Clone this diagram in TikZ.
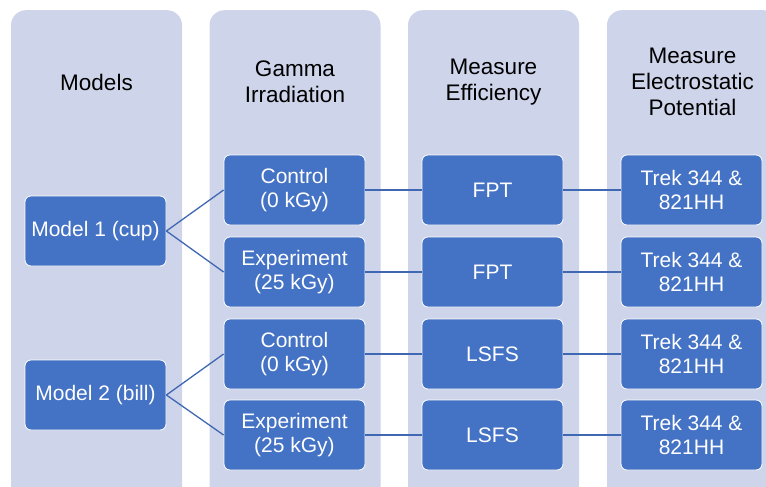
\documentclass[tikz,border=0pt]{standalone}
\usepackage{fontspec}
\setmainfont{Liberation Sans}
\usepackage{tikz}
\definecolor{lanebg}{HTML}{CED4EA}
\definecolor{boxblue}{HTML}{4472C4}
\definecolor{linkblue}{HTML}{3F67B2}

\begin{document}
\begin{tikzpicture}[x=1pt, y=-1pt,
    lane/.style={fill=lanebg, rounded corners=15pt, minimum width=171pt,
      minimum height=500pt, inner sep=0pt, anchor=north},
    title/.style={align=center, font=\fontsize{22.5}{26}\selectfont},
    stepbox/.style={draw=white, line width=0.8pt, fill=boxblue, text=white,
      rounded corners=6pt, minimum width=141pt, minimum height=70pt,
      align=center, font=\fontsize{21}{23.5}\selectfont},
    link/.style={draw=linkblue, line width=1.3pt}]
  \useasboundingbox (0, 0) rectangle (766, 487);
  \clip (0, 0) rectangle (766, 487);

  \node[lane] (lane1) at (96.5, 10) {};
  \node[lane] (lane2) at (295, 10) {};
  \node[lane] (lane3) at (493.5, 10) {};
  \node[lane] (lane4) at (692.5, 10) {};

  \node[title] (t1) at (96.5, 82) {Models};
  \node[title] (t2) at (295, 82) {Gamma\\Irradiation};
  \node[title] (t3) at (493.5, 82) {Measure\\Efficiency};
  \node[title] (t4) at (692.5, 82) {Measure\\Electrostatic\\Potential};

  \node[stepbox] (m1) at (95.5, 231) {Model 1 (cup)};
  \node[stepbox] (m2) at (95.5, 395) {Model 2 (bill)};

  \node[stepbox] (g1) at (294.5, 190) {Control\\(0 kGy)};
  \node[stepbox] (g2) at (294.5, 272) {Experiment\\(25 kGy)};
  \node[stepbox] (g3) at (294.5, 354) {Control\\(0 kGy)};
  \node[stepbox] (g4) at (294.5, 435) {Experiment\\(25 kGy)};

  \node[stepbox] (e1) at (492.5, 190) {FPT};
  \node[stepbox] (e2) at (492.5, 272) {FPT};
  \node[stepbox] (e3) at (492.5, 354) {LSFS};
  \node[stepbox] (e4) at (492.5, 435) {LSFS};

  \node[stepbox] (p1) at (691.5, 190) {Trek 344 \&\\821HH};
  \node[stepbox] (p2) at (691.5, 272) {Trek 344 \&\\821HH};
  \node[stepbox] (p3) at (691.5, 354) {Trek 344 \&\\821HH};
  \node[stepbox] (p4) at (691.5, 435) {Trek 344 \&\\821HH};

  \draw[link]
    (m1.east) -- (g1.west)
    (m1.east) -- (g2.west)
    (m2.east) -- (g3.west)
    (m2.east) -- (g4.west);

  \draw[link]
    (g1) -- (e1)
    (g2) -- (e2)
    (g3) -- (e3)
    (g4) -- (e4);

  \draw[link]
    (e1) -- (p1)
    (e2) -- (p2)
    (e3) -- (p3)
    (e4) -- (p4);
\end{tikzpicture}
\end{document}
